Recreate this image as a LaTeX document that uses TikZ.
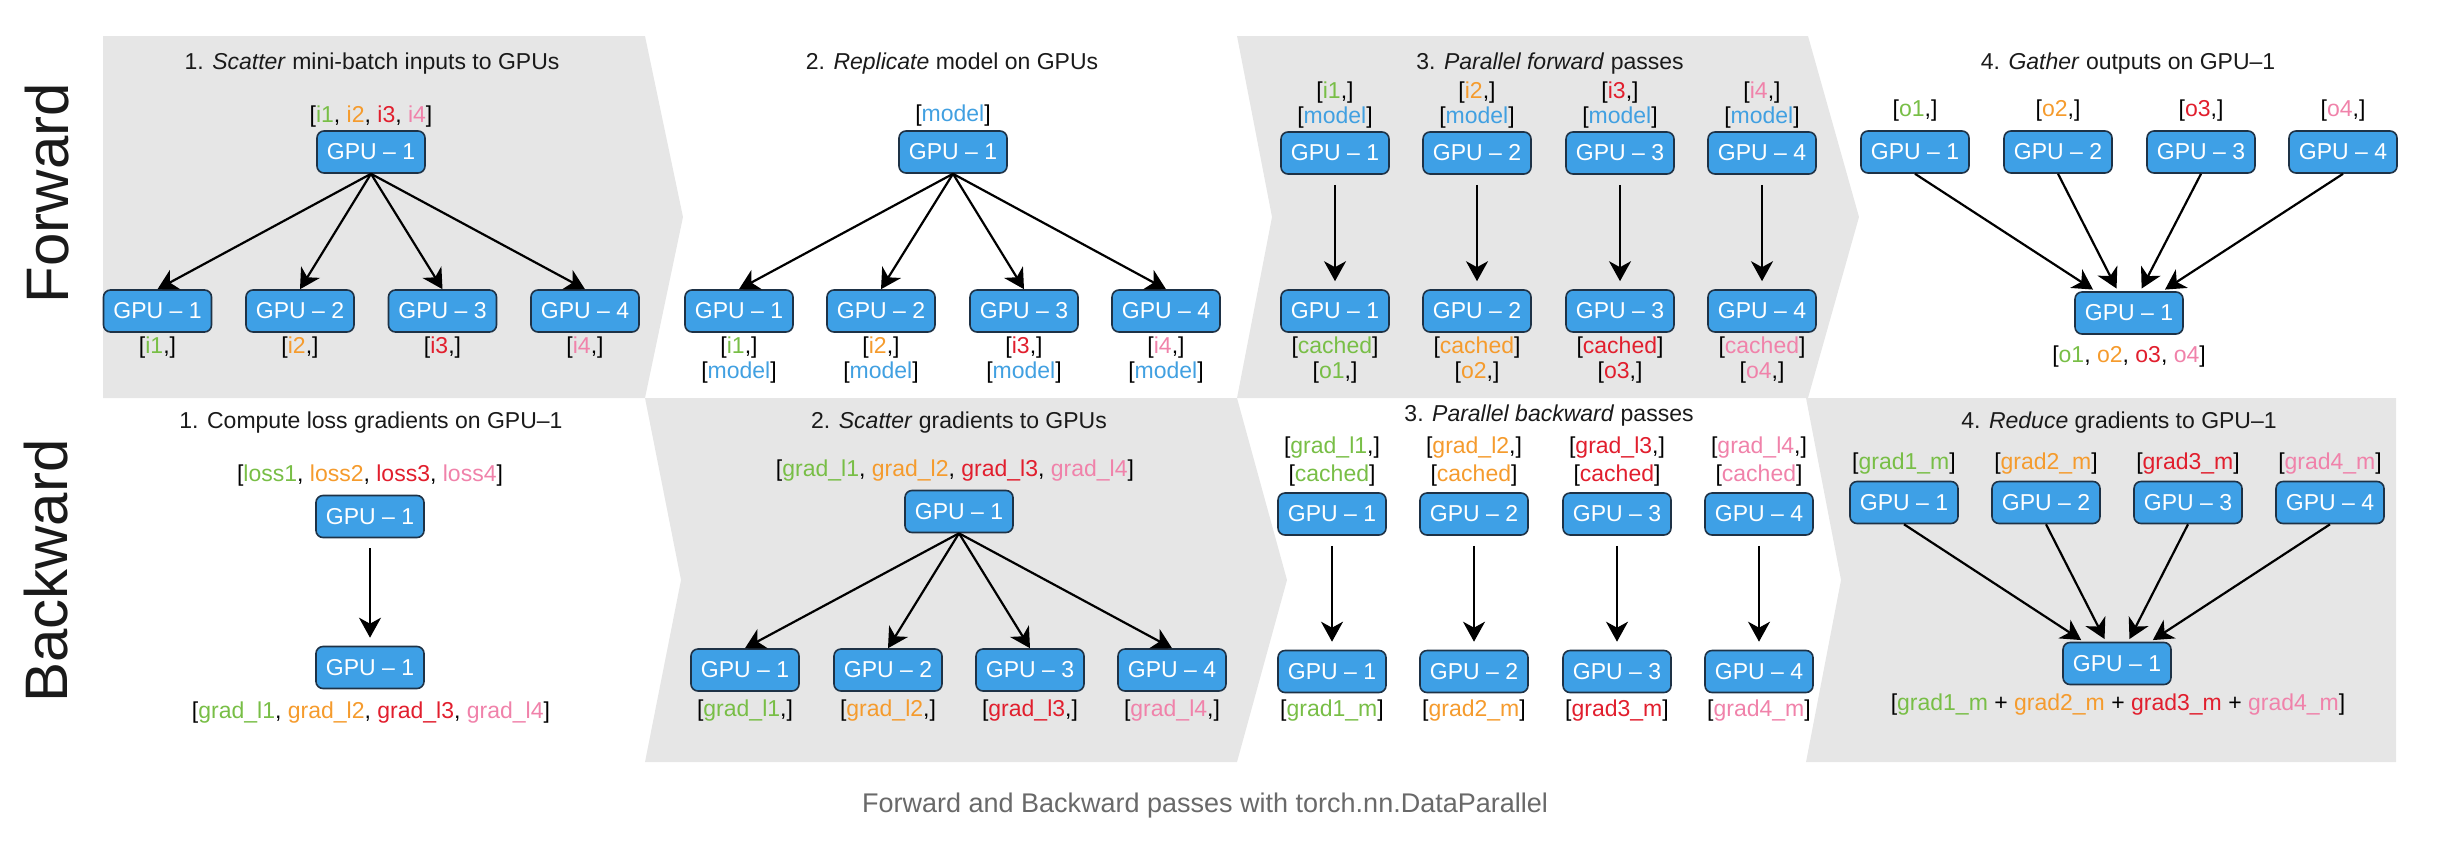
\documentclass[tikz,border=0pt]{standalone}
\usepackage{fontspec}
\setmainfont{Liberation Sans}
\usetikzlibrary{arrows.meta}

\definecolor{panelgray}{RGB}{230,230,230}
\definecolor{gpublue}{RGB}{62,160,230}
\definecolor{gpuline}{RGB}{30,50,70}
\definecolor{lgreen}{RGB}{120,190,70}
\definecolor{lorange}{RGB}{245,155,45}
\definecolor{lred}{RGB}{225,30,45}
\definecolor{lpink}{RGB}{240,130,170}
\definecolor{lmodel}{RGB}{65,160,225}
\definecolor{titleblack}{RGB}{26,26,26}
\definecolor{captiongray}{RGB}{105,105,105}

\newcommand{\cgreen}[1]{\textcolor{lgreen}{#1}}
\newcommand{\corange}[1]{\textcolor{lorange}{#1}}
\newcommand{\cred}[1]{\textcolor{lred}{#1}}
\newcommand{\cpink}[1]{\textcolor{lpink}{#1}}
\newcommand{\cmodel}[1]{\textcolor{lmodel}{#1}}

\tikzset{
	gpu/.style={draw=gpuline, fill=gpublue, rounded corners=7pt, line width=1.6pt,
		minimum width=108pt, minimum height=42pt, inner sep=0pt, text=white,
		font=\fontsize{23}{27}\selectfont},
	txt/.style={inner sep=0pt, anchor=base, font=\fontsize{23}{27}\selectfont},
	ttl/.style={txt, text=titleblack},
	arr/.style={line width=2.2pt, -{Stealth[length=20pt,width=22pt,inset=6pt]}},
	varr/.style={arr, shorten <=10pt, shorten >=8pt}
}

\begin{document}
\begin{tikzpicture}[x=1pt,y=-1pt]
				\useasboundingbox (0,0) rectangle (2464,852);
				\fill[panelgray] (103,36) -- (645,36) -- (683,217) -- (645,398) -- (103,398) -- cycle;
				\fill[panelgray] (1237,36) -- (1808,36) -- (1859,217) -- (1808,398) -- (1237,398) -- (1272,217) -- cycle;
				\fill[panelgray] (645,398) -- (1237,398) -- (1287,580) -- (1237,762) -- (645,762) -- (681,580) -- cycle;
				\fill[panelgray] (1806,398) -- (2396,398) -- (2396,762) -- (1806,762) -- (1841,580) -- cycle;
				\node[rotate=90, anchor=base, inner sep=0pt, text=titleblack, font=\fontsize{60}{60}\selectfont] (fwd) at (68,193) {Forward};
				\node[rotate=90, anchor=base, inner sep=0pt, text=titleblack, font=\fontsize{60}{60}\selectfont] (bwd) at (67,571) {Backward};
				\node[ttl] (t1) at (372,69) {1. \textit{Scatter} mini-batch inputs to GPUs};
				\node[ttl] (t2) at (952,69) {2. \textit{Replicate} model on GPUs};
				\node[ttl] (t3) at (1550,69) {3. \textit{Parallel forward} passes};
				\node[ttl] (t4) at (2128,69) {4. \textit{Gather} outputs on GPU--1};
				\node[ttl] (t5) at (371,428) {1. Compute loss gradients on GPU--1};
				\node[ttl] (t6) at (959,428) {2. \textit{Scatter} gradients to GPUs};
				\node[ttl] (t7) at (1549,421) {3. \textit{Parallel backward} passes};
				\node[ttl] (t8) at (2119,428) {4. \textit{Reduce} gradients to GPU--1};
				% forward
				\node[gpu] (fs) at (371,152) {GPU -- 1};
				\node[gpu] (fs1) at (157.5,311) {GPU -- 1};
				\node[gpu] (fs2) at (300,311) {GPU -- 2};
				\node[gpu] (fs3) at (442.5,311) {GPU -- 3};
				\node[gpu] (fs4) at (585,311) {GPU -- 4};
				\draw[arr] (fs.south) -- (fs1.north);
				\draw[arr] (fs.south) -- (fs2.north);
				\draw[arr] (fs.south) -- (fs3.north);
				\draw[arr] (fs.south) -- (fs4.north);
				\node[txt] (fsin) at (371,122) {[\cgreen{i1}, \corange{i2}, \cred{i3}, \cpink{i4}]};
				\node[txt] (fsi1) at (157.5,353) {[\cgreen{i1},]};
				\node[txt] (fsi2) at (300,353) {[\corange{i2},]};
				\node[txt] (fsi3) at (442.5,353) {[\cred{i3},]};
				\node[txt] (fsi4) at (585,353) {[\cpink{i4},]};
				\node[gpu] (fr) at (953,152) {GPU -- 1};
				\node[gpu] (fr1) at (739,311) {GPU -- 1};
				\node[gpu] (fr2) at (881,311) {GPU -- 2};
				\node[gpu] (fr3) at (1024,311) {GPU -- 3};
				\node[gpu] (fr4) at (1166,311) {GPU -- 4};
				\draw[arr] (fr.south) -- (fr1.north);
				\draw[arr] (fr.south) -- (fr2.north);
				\draw[arr] (fr.south) -- (fr3.north);
				\draw[arr] (fr.south) -- (fr4.north);
				\node[txt] (frm) at (953,121) {[\cmodel{model}]};
				\node[txt] (fri1) at (739,353) {[\cgreen{i1},]};
				\node[txt] (fri2) at (881,353) {[\corange{i2},]};
				\node[txt] (fri3) at (1024,353) {[\cred{i3},]};
				\node[txt] (fri4) at (1166,353) {[\cpink{i4},]};
				\node[txt] (frm1) at (739,378) {[\cmodel{model}]};
				\node[txt] (frm2) at (881,378) {[\cmodel{model}]};
				\node[txt] (frm3) at (1024,378) {[\cmodel{model}]};
				\node[txt] (frm4) at (1166,378) {[\cmodel{model}]};
				\node[gpu] (fpa1) at (1335,153) {GPU -- 1};
				\node[gpu] (fpa2) at (1477,153) {GPU -- 2};
				\node[gpu] (fpa3) at (1620,153) {GPU -- 3};
				\node[gpu] (fpa4) at (1762,153) {GPU -- 4};
				\node[gpu] (fpb1) at (1335,311) {GPU -- 1};
				\node[gpu] (fpb2) at (1477,311) {GPU -- 2};
				\node[gpu] (fpb3) at (1620,311) {GPU -- 3};
				\node[gpu] (fpb4) at (1762,311) {GPU -- 4};
				\draw[varr] (fpa1.south) -- (fpb1.north);
				\draw[varr] (fpa2.south) -- (fpb2.north);
				\draw[varr] (fpa3.south) -- (fpb3.north);
				\draw[varr] (fpa4.south) -- (fpb4.north);
				\node[txt] (fpi1) at (1335,98) {[\cgreen{i1},]};
				\node[txt] (fpi2) at (1477,98) {[\corange{i2},]};
				\node[txt] (fpi3) at (1620,98) {[\cred{i3},]};
				\node[txt] (fpi4) at (1762,98) {[\cpink{i4},]};
				\node[txt] (fpm1) at (1335,123) {[\cmodel{model}]};
				\node[txt] (fpm2) at (1477,123) {[\cmodel{model}]};
				\node[txt] (fpm3) at (1620,123) {[\cmodel{model}]};
				\node[txt] (fpm4) at (1762,123) {[\cmodel{model}]};
				\node[txt] (fpc1) at (1335,353) {[\cgreen{cached}]};
				\node[txt] (fpc2) at (1477,353) {[\corange{cached}]};
				\node[txt] (fpc3) at (1620,353) {[\cred{cached}]};
				\node[txt] (fpc4) at (1762,353) {[\cpink{cached}]};
				\node[txt] (fpo1) at (1335,378) {[\cgreen{o1},]};
				\node[txt] (fpo2) at (1477,378) {[\corange{o2},]};
				\node[txt] (fpo3) at (1620,378) {[\cred{o3},]};
				\node[txt] (fpo4) at (1762,378) {[\cpink{o4},]};
				\node[gpu] (fg1) at (1915,152) {GPU -- 1};
				\node[gpu] (fg2) at (2058,152) {GPU -- 2};
				\node[gpu] (fg3) at (2201,152) {GPU -- 3};
				\node[gpu] (fg4) at (2343,152) {GPU -- 4};
				\node[gpu] (fg) at (2129,313) {GPU -- 1};
				\draw[arr, shorten >=3pt] (fg1.south) -- (fg);
				\draw[arr, shorten >=3pt] (fg2.south) -- (fg);
				\draw[arr, shorten >=3pt] (fg3.south) -- (fg);
				\draw[arr, shorten >=3pt] (fg4.south) -- (fg);
				\node[txt] (fgo1) at (1915,116) {[\cgreen{o1},]};
				\node[txt] (fgo2) at (2058,116) {[\corange{o2},]};
				\node[txt] (fgo3) at (2201,116) {[\cred{o3},]};
				\node[txt] (fgo4) at (2343,116) {[\cpink{o4},]};
				\node[txt] (fgout) at (2129,362) {[\cgreen{o1}, \corange{o2}, \cred{o3}, \cpink{o4}]};
				% backward
				\node[gpu] (bl) at (370,516.5) {GPU -- 1};
				\node[gpu] (bl1) at (370,667.5) {GPU -- 1};
				\draw[varr] (bl.south) -- (bl1.north);
				\node[txt] (blin) at (370,481) {[\cgreen{loss1}, \corange{loss2}, \cred{loss3}, \cpink{loss4}]};
				\node[txt] (blout) at (371,718) {[\cgreen{grad\_l1}, \corange{grad\_l2}, \cred{grad\_l3}, \cpink{grad\_l4}]};
				\node[gpu] (bs) at (959,511.5) {GPU -- 1};
				\node[gpu] (bs1) at (745,670) {GPU -- 1};
				\node[gpu] (bs2) at (888,670) {GPU -- 2};
				\node[gpu] (bs3) at (1030,670) {GPU -- 3};
				\node[gpu] (bs4) at (1172,670) {GPU -- 4};
				\draw[arr] (bs.south) -- (bs1.north);
				\draw[arr] (bs.south) -- (bs2.north);
				\draw[arr] (bs.south) -- (bs3.north);
				\draw[arr] (bs.south) -- (bs4.north);
				\node[txt] (bsin) at (955,476) {[\cgreen{grad\_l1}, \corange{grad\_l2}, \cred{grad\_l3}, \cpink{grad\_l4}]};
				\node[txt] (bsg1) at (745,716) {[\cgreen{grad\_l1},]};
				\node[txt] (bsg2) at (888,716) {[\corange{grad\_l2},]};
				\node[txt] (bsg3) at (1030,716) {[\cred{grad\_l3},]};
				\node[txt] (bsg4) at (1172,716) {[\cpink{grad\_l4},]};
				\node[gpu] (bpa1) at (1332,514) {GPU -- 1};
				\node[gpu] (bpa2) at (1474,514) {GPU -- 2};
				\node[gpu] (bpa3) at (1617,514) {GPU -- 3};
				\node[gpu] (bpa4) at (1759,514) {GPU -- 4};
				\node[gpu] (bpb1) at (1332,671.5) {GPU -- 1};
				\node[gpu] (bpb2) at (1474,671.5) {GPU -- 2};
				\node[gpu] (bpb3) at (1617,671.5) {GPU -- 3};
				\node[gpu] (bpb4) at (1759,671.5) {GPU -- 4};
				\draw[varr] (bpa1.south) -- (bpb1.north);
				\draw[varr] (bpa2.south) -- (bpb2.north);
				\draw[varr] (bpa3.south) -- (bpb3.north);
				\draw[varr] (bpa4.south) -- (bpb4.north);
				\node[txt] (bpg1) at (1332,453) {[\cgreen{grad\_l1},]};
				\node[txt] (bpg2) at (1474,453) {[\corange{grad\_l2},]};
				\node[txt] (bpg3) at (1617,453) {[\cred{grad\_l3},]};
				\node[txt] (bpg4) at (1759,453) {[\cpink{grad\_l4},]};
				\node[txt] (bpc1) at (1332,481) {[\cgreen{cached}]};
				\node[txt] (bpc2) at (1474,481) {[\corange{cached}]};
				\node[txt] (bpc3) at (1617,481) {[\cred{cached}]};
				\node[txt] (bpc4) at (1759,481) {[\cpink{cached}]};
				\node[txt] (bpm1) at (1332,716) {[\cgreen{grad1\_m}]};
				\node[txt] (bpm2) at (1474,716) {[\corange{grad2\_m}]};
				\node[txt] (bpm3) at (1617,716) {[\cred{grad3\_m}]};
				\node[txt] (bpm4) at (1759,716) {[\cpink{grad4\_m}]};
				\node[gpu] (br1) at (1904,502.5) {GPU -- 1};
				\node[gpu] (br2) at (2046,502.5) {GPU -- 2};
				\node[gpu] (br3) at (2188,502.5) {GPU -- 3};
				\node[gpu] (br4) at (2330,502.5) {GPU -- 4};
				\node[gpu] (br) at (2117,663.5) {GPU -- 1};
				\draw[arr, shorten >=3pt] (br1.south) -- (br);
				\draw[arr, shorten >=3pt] (br2.south) -- (br);
				\draw[arr, shorten >=3pt] (br3.south) -- (br);
				\draw[arr, shorten >=3pt] (br4.south) -- (br);
				\node[txt] (brm1) at (1904,469) {[\cgreen{grad1\_m}]};
				\node[txt] (brm2) at (2046,469) {[\corange{grad2\_m}]};
				\node[txt] (brm3) at (2188,469) {[\cred{grad3\_m}]};
				\node[txt] (brm4) at (2330,469) {[\cpink{grad4\_m}]};
				\node[txt] (brsum) at (2118,710) {[\cgreen{grad1\_m} + \corange{grad2\_m} + \cred{grad3\_m} + \cpink{grad4\_m}]};
				\node[anchor=base, inner sep=0pt, text=captiongray, font=\fontsize{27}{30}\selectfont] (cap) at (1205,812) {Forward and Backward passes with torch.nn.DataParallel};
			\end{tikzpicture}
\end{document}
